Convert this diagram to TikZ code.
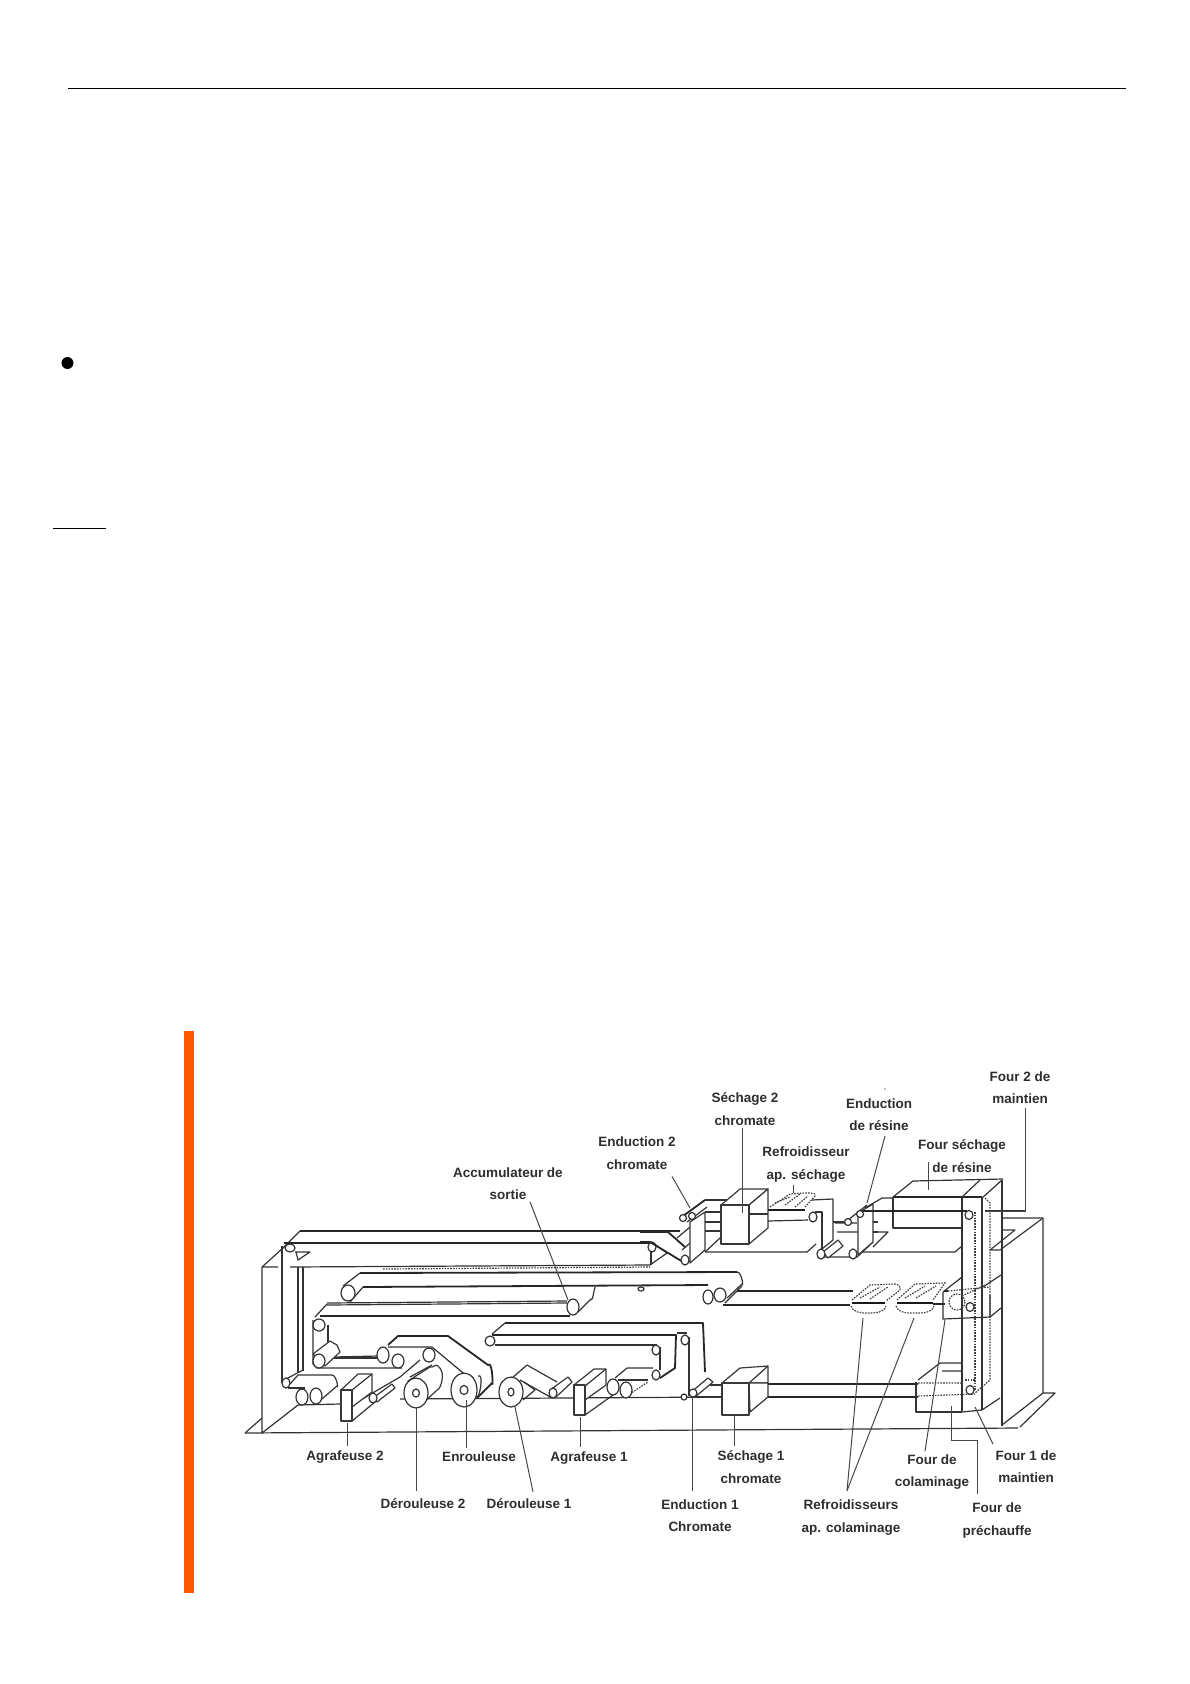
\documentclass[tikz,border=0pt]{standalone}
\usepackage{fontspec}
\setmainfont{Liberation Sans}
\tikzset{
 ln/.style={line width=1.2pt,draw=black!80,line join=round},
 th/.style={line width=1.8pt,draw=black!85,line join=round},
 hv/.style={line width=2.8pt,draw=black!90},
 dt/.style={line width=1.2pt,draw=black!75,dash pattern=on 1.6pt off 1.2pt},
 lead/.style={line width=1pt,draw=black!72},
 lab/.style={font=\fontsize{13.5}{22.5}\selectfont\bfseries,text=black!82,align=center,inner sep=0pt},
 box/.style={line width=1.2pt,draw=black!78,fill=white,line join=round},
 roll/.style={line width=1.2pt,draw=black!80,fill=white},
}
\newcommand{\rol}[4]{\draw[roll] (#1,#2) ellipse [x radius=#3,y radius=#4];}
\begin{document}
\begin{tikzpicture}[x=1pt,y=-1pt]
\useasboundingbox (0,0) rectangle (1190,1684);
\fill[white] (0,0) rectangle (1190,1684);
% page marks
\draw[line width=1pt,black] (68,88.5) -- (1126,88.5);
\fill[black] (67.5,363) circle (6);
\draw[line width=1pt,black] (53,528) -- (106,528);
\fill[orange!70!red] (184,1031) rectangle (194,1593);

% ---------- frame
\draw[ln] (245,1433) -- (1018,1428);
\draw[ln] (245,1433) -- (262,1418);
\draw[ln] (262,1267) -- (262,1433) -- (298,1405) -- (340,1404);
\draw[ln] (262,1267) -- (283,1248) (262,1267) -- (278,1267);
\draw[ln] (400,1399) -- (723,1397);
\draw[ln] (1003,1218) -- (1043,1218) -- (1043,1393) -- (1055,1393) -- (1020,1427);
\draw[ln] (1002,1425) -- (1043,1393);
\draw[box] (1000,1250) -- (1043,1218) (1000,1250) -- (990,1250) -- (1015,1230) -- (1003,1230);
\draw[ln] (1002,1180) -- (1002,1426);
\draw[ln] (982,1410) -- (1000,1398);
\draw[ln] (983,1287) -- (1001,1275) (990,1317) -- (1001,1308);
\draw[ln] (857,1252) -- (955,1252) -- (962,1246);
\draw[ln] (835,1223) -- (857,1223) (837,1232) -- (888,1232) -- (873,1247);

% ---------- top strip and left column
\draw[th] (300,1231) -- (680,1231);
\draw[ln] (283,1248) -- (300,1231);
\draw[th] (284,1243) -- (653,1243);
\draw[ln] (290,1267) -- (650,1265) -- (667,1253) -- (653,1243);
\draw[dt] (383,1269) -- (650,1267);
\draw[ln] (651,1251) -- (651,1265);
\draw[ln] (282,1246) -- (282,1383);
\draw[ln] (298,1267) -- (298,1373) (303,1267) -- (303,1371);
\draw[ln] (295,1252) -- (310,1252) -- (298,1260) -- (296,1252);
\draw[ln] (286,1379) -- (303,1370);
\draw[ln] (290,1384) -- (298,1375) -- (332,1375) to[out=0,in=-70] (337,1386) -- (316,1404);
\draw[ln] (288,1388) -- (305,1388);
\rol{290}{1248}{5}{4}
\rol{286}{1383}{4}{5}
\rol{302}{1397}{6}{8}
\rol{316}{1396}{6}{8}
\rol{652}{1247}{4}{5}

% ---------- accumulator
\draw[th] (360,1273) -- (737,1272);
\draw[ln] (343,1286) -- (360,1273);
\draw[th] (363,1287) -- (708,1285);
\draw[ln] (737,1272) to[out=0,in=-70] (742,1284) -- (727,1298);
\draw[ln] (350,1302) -- (363,1287);
\draw[th] (320,1316) -- (570,1316);
\draw[ln] (327,1303) -- (567,1301) (327,1305) -- (567,1303);
\draw[ln] (578,1312) -- (591,1299) to[out=-70,in=90] (595,1288);
\draw[ln] (315,1317) -- (327,1304);
\draw[ln] (313,1320) -- (313,1364) -- (317,1368) -- (402,1368);
\draw[ln] (328,1325) -- (328,1344);
\draw[ln] (333,1358) -- (378,1358);
\draw[ln] (333,1357) -- (378,1356);
\draw[box] (313,1354) -- (330,1341) -- (337,1345) -- (340,1352) -- (325,1366) -- cycle;
\rol{348}{1293}{7}{8}
\rol{573}{1307}{6}{8}
\rol{319}{1325}{6}{6}
\rol{319}{1361}{6}{7}
\rol{641}{1289}{3}{2}

% ---------- rollers/enrouleuse
\draw[th] (388,1345) -- (398,1336) -- (448,1336) -- (488,1365) to[out=50,in=-80] (492,1383) -- (477,1398);
\draw[ln] (388,1347) -- (432,1347) -- (468,1377);
\draw[ln] (352,1405) -- (400,1377) -- (420,1360);
\draw[ln] (410,1377) -- (432,1365);
\rol{383}{1355}{6}{8}
\rol{398}{1361}{6}{7}
\rol{429}{1355}{6}{7}
% derouleuse 2 cylinder
\draw[box] (408,1381) -- (430,1367) to[out=-20,in=120] (438,1366) to[out=-40,in=80] (442,1380) to[out=-100,in=30] (436,1391) -- (422,1404) -- cycle;
\rol{416}{1393}{12}{15}
\rol{416}{1393}{3.5}{4}
\draw[ln] (478,1376) to[out=30,in=-70] (476,1396);
\rol{464}{1390}{13}{17}
\rol{464}{1390}{4}{4.5}
% agrafeuse 2
\draw[box] (373,1398) -- (392,1384) -- (395,1388) -- (377,1402) -- cycle;
\rol{373}{1398}{4}{5}
\draw[box] (341,1390) -- (358,1374) -- (372,1374) -- (372,1392) -- (352,1407) -- (352,1390) -- cycle;
\draw[ln] (352,1390) -- (372,1374);
\draw[ln] (352,1421) -- (375,1402);
\draw[box] (341,1390) rectangle (352,1421);

% ---------- derouleuse 1 / agrafeuse 1
\draw[ln] (512,1378) -- (527,1365) -- (557,1382);
\draw[ln] (520,1380) -- (552,1398);
\draw[ln] (523,1400) -- (535,1390) -- (524,1382);
\rol{511}{1392}{12}{15}
\rol{511}{1392}{3}{4}
\draw[box] (550,1390) -- (568,1377) -- (572,1382) -- (556,1397) -- cycle;
\rol{553}{1393}{4}{5}
\draw[box] (574,1385) -- (594,1369) -- (606,1369) -- (606,1385) -- (585,1400) -- (585,1386) -- cycle;
\draw[ln] (585,1386) -- (606,1369);
\draw[ln] (585,1415) -- (613,1395);
\draw[box] (574,1385) rectangle (585,1415);
\draw[ln] (615,1378) -- (627,1368) -- (653,1368);
\draw[ln] (618,1380) -- (648,1380);
\draw[dt] (625,1397) -- (648,1382);
\rol{613}{1387}{6}{8}
\rol{626}{1390}{6}{8}
% second strip
\draw[th] (492,1335) -- (676,1335) -- (675,1368) -- (660,1378);
\draw[th] (505,1323) -- (703,1323) -- (705,1372);
\draw[ln] (492,1334) -- (505,1323);
\draw[ln] (495,1345) -- (657,1345) (660,1347) -- (660,1370);
\draw[ln] (677,1333) -- (687,1333) (689,1337) -- (689,1396);
\rol{490}{1341}{5}{5}
\rol{656}{1350}{4}{5}
\rol{656}{1375}{4}{5}
\rol{685}{1340}{4}{5}

% ---------- enduction 1 and sechage 1
\draw[ln] (695,1397) -- (722,1397) (710,1385) -- (722,1385);
\draw[box] (690,1393) -- (708,1378) -- (713,1382) -- (695,1397) -- cycle;
\rol{684}{1397}{3}{3}
\rol{693}{1393}{4}{4}
\draw[th] (768,1384) -- (918,1384);
\draw[th] (748,1397) -- (918,1397);
\draw[box] (722,1383) -- (740,1368) -- (768,1366) -- (768,1383) -- (749,1383) -- cycle;
\draw[ln] (749,1383) -- (768,1366);
\draw[box] (749,1383) -- (768,1383) -- (768,1397) -- (750,1412) -- cycle;
\draw[box] (722,1383) rectangle (749,1415);

% ---------- strip to enduction 2
\draw[th] (640,1232) -- (668,1232) -- (685,1247);
\draw[th] (640,1242) -- (650,1242) -- (683,1262);
\draw[ln] (685,1264) -- (705,1250);
\draw[ln] (677,1238) -- (690,1227) (682,1250) -- (690,1243);
\rol{685}{1260}{4}{5}
\draw[ln] (705,1252) -- (807,1252) -- (816,1244);
\draw[ln] (705,1252) -- (720,1238);
\draw[ln] (705,1222) -- (721,1222) (705,1231) -- (721,1231) (705,1212) -- (721,1212);
\draw[box] (690,1222) -- (705,1212) -- (705,1250) -- (690,1263) -- cycle;
\draw[th] (683,1216) -- (705,1200);
\draw[ln] (705,1200) -- (730,1200);
\draw[ln] (687,1222) -- (707,1207);
\rol{683}{1218}{3.5}{3.5}
\rol{692}{1216}{3.5}{3.5}
% sechage 2
\draw[box] (721,1205) -- (740,1189) -- (768,1189) -- (749,1205) -- cycle;
\draw[box] (749,1205) -- (768,1189) -- (768,1228) -- (749,1244) -- cycle;
\draw[box] (721,1205) rectangle (749,1244);
\draw[ln] (749,1214) -- (768,1214);
% refroidisseur ap sechage
\draw[dt,fill=white] (770,1207) -- (790,1194) -- (805,1193) to[out=0,in=60] (815,1196) -- (805,1207);
\draw[dt] (775,1203) -- (790,1197) (785,1205) -- (800,1194) (795,1207) -- (808,1196);
\draw[ln] (768,1221) -- (808,1220);
\draw[hv] (768,1210) -- (805,1210);
\draw[ln] (812,1200) -- (833,1199) -- (833,1240) -- (817,1253);
\draw[ln] (815,1212) -- (822,1212) -- (822,1254);
\rol{813}{1217}{4}{5}
% bottom of loop
\draw[ln] (817,1257) -- (857,1257) -- (873,1242);
\draw[ln] (833,1222) -- (848,1222);
\draw[box] (823,1252) -- (838,1240) -- (843,1246) -- (828,1258) -- cycle;
\rol{821}{1254}{4}{5}
\rol{853}{1254}{4}{5}
% enduction resine
\draw[ln] (848,1220) -- (867,1205);
\draw[box] (858,1213) -- (873,1204) -- (873,1242) -- (858,1255) -- cycle;
\draw[ln] (865,1208) -- (882,1198) -- (893,1198);
\rol{848}{1222}{3.5}{3.5}
\rol{860}{1214}{3.5}{3.5}
\draw[ln] (873,1222) -- (878,1222) (873,1232) -- (878,1232);

% ---------- oven and tower
\draw[th] (893,1197) -- (982,1197);
\draw[ln] (893,1197) -- (893,1228) -- (962,1228);
\draw[ln] (893,1197) -- (913,1181) -- (1003,1179);
\draw[ln] (962,1197) -- (980,1180);
\draw[ln] (982,1198) -- (1002,1180);
\draw[ln] (962,1197) -- (962,1411) (982,1198) -- (982,1410);
\draw[th] (863,1211) -- (967,1211);
\draw[dt] (975,1212) -- (975,1390);
\draw[dt] (985,1198) -- (990,1203) -- (990,1380) -- (975,1393);
\draw[ln] (985,1211) -- (1025,1211);
\rol{969}{1215}{4}{4.5}

% ---------- cooling units
\draw[th] (737,1291) -- (853,1291);
\draw[th] (723,1305) -- (850,1305);
\rol{708}{1297}{5}{7}
\rol{720}{1295}{6}{7}
\draw[ln] (725,1303) -- (742,1286);
\draw[dt,fill=white] (852,1300) -- (870,1285) -- (895,1284) to[out=0,in=60] (900,1290) -- (886,1301);
\draw[dt,fill=white] (897,1300) -- (915,1284) -- (945,1283) -- (933,1300);
\draw[dt] (860,1298) -- (880,1287) (870,1299) -- (888,1287) (905,1298) -- (925,1286) (916,1298) -- (936,1286);
\draw[hv] (852,1303) -- (885,1303);
\draw[hv] (897,1303) -- (933,1303);
\draw[dt] (851,1306) to[out=-70,in=180] (868,1313) to[out=0,in=-110] (886,1306);
\draw[dt] (896,1306) to[out=-70,in=180] (915,1313) to[out=0,in=-110] (934,1306);
\draw[th] (933,1304) -- (945,1304);

% ---------- colaminage box
\draw[ln] (943,1292) -- (943,1319) -- (990,1317) -- (990,1295);
\draw[ln] (943,1292) -- (962,1277);
\draw[th] (944,1291) -- (948,1291);
\draw[dt] (948,1291) -- (990,1287);
\draw[dt] (957,1302) circle (8);
\draw[dt] (962,1296) -- (985,1285);
\rol{970}{1307}{4}{4.5}

% ---------- prechauffe
\draw[ln] (916,1382) -- (916,1412) -- (962,1412);
\draw[ln] (918,1380) -- (940,1363) -- (962,1363);
\draw[ln] (942,1371) -- (962,1371) (962,1412) -- (982,1410);
\draw[dt] (918,1383) -- (962,1383) (918,1396) -- (975,1394);
\rol{970}{1390}{4}{4.5}
\draw[dt] (965,1380) -- (976,1380);

% ---------- labels
\node[lab] (accu) at (508,1183.5) {Accumulateur de\\sortie};
\node[lab] (sech2) at (745,1109) {Séchage 2\\chromate};
\node[lab] (end2) at (637,1153) {Enduction 2\\chromate};
\node[lab] (refs) at (806,1164.5) {Refroidisseur\\ap. séchage};
\node[lab] (endr) at (879,1114.5) {Enduction\\de résine};
\node[lab] (fsr) at (962,1156) {Four séchage\\de résine};
\node[lab] (f2m) at (1020,1087.5) {Four 2 de\\maintien};
\node[lab] (ag2) at (345,1457) {Agrafeuse 2};
\node[lab] (enr) at (479,1457) {Enrouleuse};
\node[lab] (ag1) at (589,1458) {Agrafeuse 1};
\node[lab] (der2) at (423,1504) {Dérouleuse 2};
\node[lab] (der1) at (529,1504) {Dérouleuse 1};
\node[lab] (sech1) at (751,1467) {Séchage 1\\chromate};
\node[lab] (end1) at (700,1515.5) {Enduction 1\\Chromate};
\node[lab] (refc) at (851,1517.5) {Refroidisseurs\\ap. colaminage};
\node[lab] (fcol) at (932,1472) {Four de\\colaminage};
\node[lab] (fpre) at (997,1520.5) {Four de\\préchauffe};
\node[lab] (f1m) at (1026,1466.5) {Four 1 de\\maintien};

% ---------- leaders
\coordinate (tAccu) at (568,1300);
\coordinate (tSech2) at (742,1213);
\coordinate (tEnd2) at (690,1208);
\coordinate (tRefs) at (793,1193);
\coordinate (tEndr) at (867,1203);
\coordinate (tFsr) at (928,1190);
\coordinate (tF2m) at (985,1211);
\coordinate (tAg2) at (347,1423);
\coordinate (tEnr) at (466,1400);
\coordinate (tAg1) at (580,1417);
\coordinate (tDer2) at (416,1407);
\coordinate (tDer1) at (515,1407);
\coordinate (tSech1) at (734,1416);
\coordinate (tEnd1) at (692,1398);
\coordinate (tRc1) at (863,1318);
\coordinate (tRc2) at (914,1318);
\coordinate (tFcol) at (945,1320);
\coordinate (tFpre) at (951,1406);
\coordinate (tF1m) at (975,1407);
\coordinate (fAccu) at ([shift={(22,2)}]accu.south);
\coordinate (fEnd2) at ([shift={(35,7)}]end2.south);
\draw[lead] (fAccu) -- (tAccu);
\draw[lead] ([shift={(-3,3)}]sech2.south) -- (tSech2);
\draw[lead] (fEnd2) -- (tEnd2);
\draw[lead] ([shift={(-13,3)}]refs.south) -- (tRefs);
\draw[lead] ([shift={(6,5)}]endr.south) -- (tEndr);
\draw[lead] ([shift={(-34,-10)}]fsr.south) -- (tFsr);
\draw[lead] ([shift={(5,4)}]f2m.south) -- (1025,1211) -- (tF2m);
\draw[lead] ([shift={(2,-4)}]ag2.north) -- (tAg2);
\draw[lead] ([shift={(-13,-4)}]enr.north) -- (tEnr);
\draw[lead] ([shift={(-9,-4)}]ag1.north) -- (tAg1);
\draw[lead] ([shift={(-7,-8)}]der2.north) -- (tDer2);
\draw[lead] ([shift={(4,-7)}]der1.north) -- (tDer1);
\draw[lead] ([shift={(-17,-5)}]sech1.north) -- (tSech1);
\draw[lead] ([shift={(-8,-8)}]end1.north) -- (tEnd1);
\draw[lead] ([shift={(-4,-9)}]refc.north) -- (tRc1);
\draw[lead] ([shift={(-4,-9)}]refc.north) -- (tRc2);
\draw[lead] ([shift={(-7,-3)}]fcol.north) -- (tFcol);
\draw[lead] ([shift={(-20,-9)}]fpre.north) -- (977,1440) -- (951,1440) -- (tFpre);
\draw[lead] ([shift={(-33,-6)}]f1m.north) -- (tF1m);
\fill[black!50] (885,1089) circle (0.8);
\end{tikzpicture}
\end{document}
